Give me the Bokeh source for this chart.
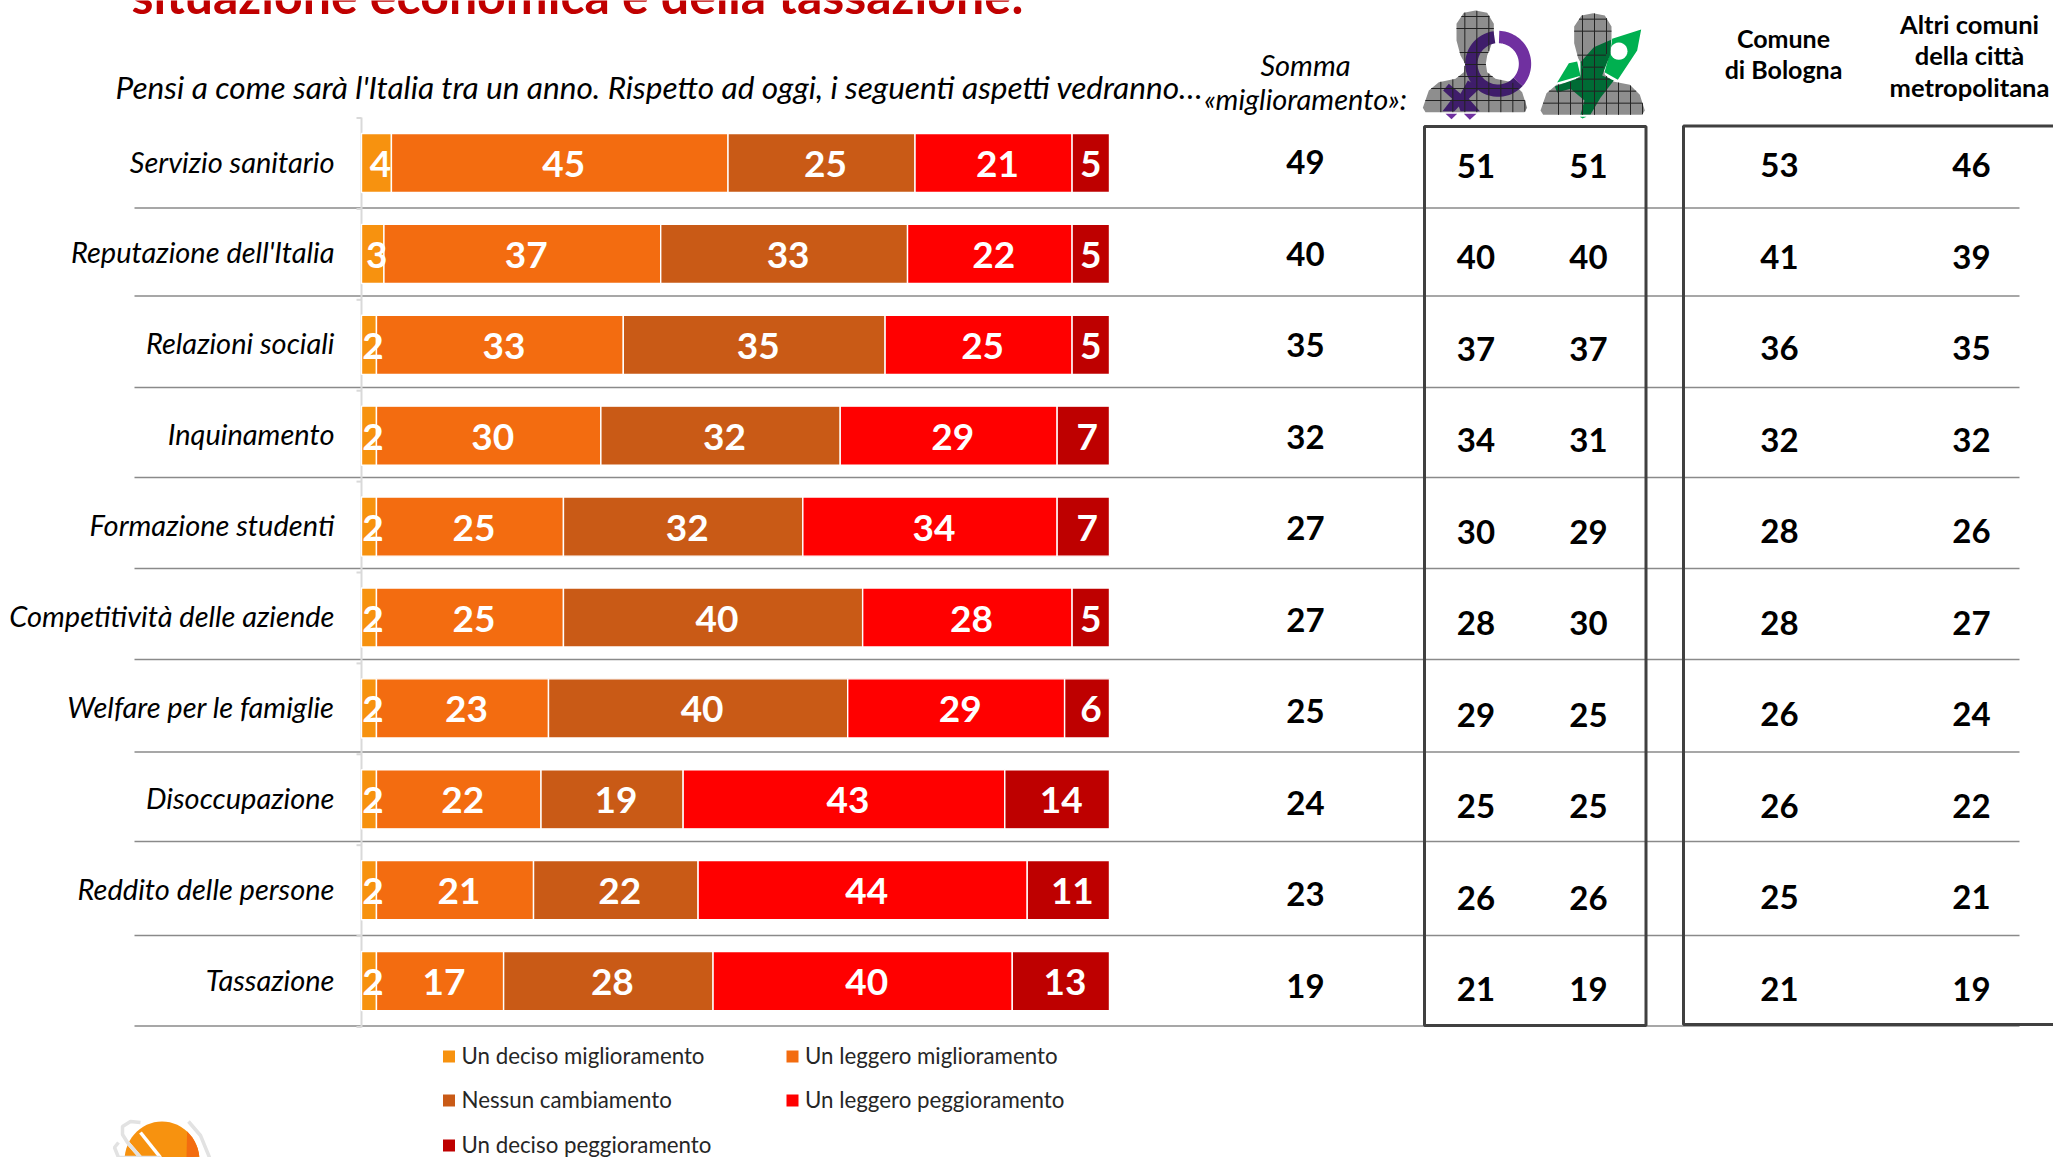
from bokeh.plotting import figure
from bokeh.models import Range1d, ColumnDataSource
from bokeh.core.properties import value
from bokeh.embed import file_html
from bokeh.resources import INLINE
import numpy as np

categories = ["Servizio sanitario", "Reputazione dell'Italia", "Relazioni sociali", "Inquinamento",
              "Formazione studenti", "Competitività delle aziende", "Welfare per le famiglie",
              "Disoccupazione", "Reddito delle persone", "Tassazione"]
deciso_migl = [4, 3, 2, 2, 2, 2, 2, 2, 2, 2]
leggero_migl = [45, 37, 33, 30, 25, 25, 23, 22, 21, 17]
nessun = [25, 33, 35, 32, 32, 40, 40, 19, 22, 28]
leggero_pegg = [21, 22, 25, 29, 34, 28, 29, 43, 44, 40]
deciso_pegg = [5, 5, 5, 7, 7, 5, 6, 14, 11, 13]
somma = [49, 40, 35, 32, 27, 27, 25, 24, 23, 19]
donne = [51, 40, 37, 34, 30, 28, 29, 25, 26, 21]
giovani = [51, 40, 37, 31, 29, 30, 25, 25, 26, 19]
bologna = [53, 41, 36, 32, 28, 28, 26, 26, 25, 21]
altri = [46, 39, 35, 32, 26, 27, 24, 22, 21, 19]
series_names = ["Un deciso miglioramento", "Un leggero miglioramento", "Nessun cambiamento",
                "Un leggero peggioramento", "Un deciso peggioramento"]
colors = ["#F7920F", "#F36C10", "#C95A16", "#FF0000", "#BE0000"]
title = "situazione economica e della tassazione:"
question = "Pensi a come sarà l'Italia tra un anno. Rispetto ad oggi, i seguenti aspetti vedranno…"

W, H = 2053, 1157
X0, X100 = 361.0, 1109.0
Y0, YSTEP = 162.5, 90.9
FONT = "Lato"

xs = (X100 - X0) / 100
ys = YSTEP
p = figure(width=W, height=H, output_backend="svg", toolbar_location=None,
           x_range=Range1d(-X0 / xs, (W - X0) / xs),
           y_range=Range1d((H - Y0) / ys, -Y0 / ys),
           min_border=0, outline_line_color=None)
p.axis.visible = False
p.grid.visible = False
p.extra_x_ranges["px"] = Range1d(0, W)
p.extra_y_ranges["px"] = Range1d(H, 0)
PX = dict(x_range_name="px", y_range_name="px")


def ptext(x, y, t, size, color="#000000", align="center", style="normal", baseline="middle"):
    p.text([x], [y], text=[t], text_font=value(FONT), text_font_size=f"{size}px", text_color=color,
           text_align=align, text_baseline=baseline, text_font_style=style, **PX)


# rules, axis and boxes
rule_y = [207.5, 295.5, 387, 477, 568, 659, 751.5, 841, 935, 1025.5]
p.segment([134] * 10, rule_y, [2019] * 10, rule_y, line_color="#8A8A8A", line_width=1.6, **PX)
p.segment([361], [117], [361], [1027], line_color="#D9D9D9", line_width=2, **PX)
tick_y = [117.5 + 90.9 * i for i in range(11)]
p.segment([356] * 11, tick_y, [361] * 11, tick_y, line_color="#D9D9D9", line_width=2, **PX)

# stacked bars, with all their labels on top
rows = list(range(len(categories)))
stack = [deciso_migl, leggero_migl, nessun, leggero_pegg, deciso_pegg]
left = np.zeros(len(rows))
sources = []
for k, (vals, col) in enumerate(zip(stack, colors)):
    right = left + np.array(vals)
    nudge = [0 if (k == 4 and v == 5) else 4 for v in vals]
    src = ColumnDataSource(dict(y=rows, l=left, r=right, c=(left + right) / 2, t=[str(v) for v in vals], n=nudge))
    p.hbar(y="y", left="l", right="r", height=0.65, fill_color=col, line_color="#FFFFFF", line_width=1.4, source=src)
    sources.append(src)
    left = right
for src in sources:
    p.text(x="c", y="y", text="t", text_color="#FFFFFF", text_font=value(FONT), text_font_style="bold",
           text_font_size="37px", text_align="center", text_baseline="middle", y_offset=1, x_offset="n", source=src)

# row labels
p.text(x=[(334 - X0) / xs] * 10, y=rows, text=categories, text_font=value(FONT), text_font_style="italic",
       text_font_size="29px", text_align="right", text_baseline="middle", text_color="#000000", y_offset=-2)

# value columns
for vals, cx, off in [(somma, 1305, -1), (donne, 1475.5, 2.5), (giovani, 1588, 2.5), (bologna, 1779, 2), (altri, 1971, 2)]:
    p.text(x=[(cx - X0) / xs] * 10, y=[r + (off + r * 0.6) / ys for r in rows], text=[str(v) for v in vals],
           text_font=value(FONT), text_font_style="bold", text_font_size="33px", text_align="center",
           text_baseline="middle", text_color="#000000")

# boxes
p.quad(left=[1424], right=[1645.5], top=[126], bottom=[1025], fill_color=None, line_color="#404040", line_width=3, **PX)
p.quad(left=[1683], right=[2060], top=[125.5], bottom=[1024], fill_color=None, line_color="#404040", line_width=3, **PX)

# titles
ptext(131, -6, title, 50, "#C00000", "left", "bold", "alphabetic")
ptext(115, 86.5, question, 31.6, "#000000", "left", "italic")
ptext(1305, 63.5, "Somma", 29, style="italic")
ptext(1305, 97.5, "«miglioramento»:", 29, style="italic")
ptext(1783, 37, "Comune", 25, style="bold")
ptext(1783, 68.5, "di Bologna", 25, style="bold")
ptext(1969, 23, "Altri comuni", 25.5, style="bold")
ptext(1969, 54.5, "della città", 25.5, style="bold")
ptext(1969, 86.5, "metropolitana", 25.5, style="bold")

# legend
leg_pos = [(448.5, 1056), (792, 1056), (448.5, 1100), (792, 1100), (448.5, 1145)]
for name, col, (lx, ly) in zip(series_names, colors, leg_pos):
    p.scatter([lx], [ly], marker="square", size=12, fill_color=col, line_color=None, **PX)
    ptext(lx + 12.5, ly - 1.5, name, 22.3, "#262626", "left")


# icons: outlines in px relative to the icon origin
def poly(pts, ox, oy):
    a = np.array(pts, float) / 3
    return list(a[:, 0] + ox), list(a[:, 1] + oy)


def ring(cx, cy, ro, ri, a0, a1):
    t = np.radians(np.linspace(a0, a1, 40))
    outer = np.c_[cx + ro * np.cos(t), cy - ro * np.sin(t)]
    inner = np.c_[cx + ri * np.cos(t[::-1]), cy - ri * np.sin(t[::-1])]
    return np.r_[outer, inner]


person = [(285, 30), (320, 37), (340, 70), (340, 110), (330, 140), (320, 165), (316, 190), (320, 215),
          (345, 235), (395, 245), (425, 275), (440, 322), (432, 335), (135, 335), (127, 322), (145, 270),
          (175, 245), (225, 235), (250, 215), (254, 190), (240, 165), (228, 120), (228, 70), (250, 37)]
OX = 1380


def grid_clip(pts, ox, oy, gx, gy):
    a = np.array(pts, float)
    b = np.roll(a, -1, axis=0)
    xa, ya, xb, yb = [], [], [], []
    for k in np.arange(a[:, 1].min() + gy / 2, a[:, 1].max(), gy):
        hit = sorted(p0[0] + (k - p0[1]) * (p1[0] - p0[0]) / (p1[1] - p0[1])
                     for p0, p1 in zip(a, b) if (p0[1] - k) * (p1[1] - k) < 0)
        for s, e in zip(hit[::2], hit[1::2]):
            xa.append(s / 3 + ox); xb.append(e / 3 + ox); ya.append(k / 3 + oy); yb.append(k / 3 + oy)
    for k in np.arange(a[:, 0].min() + gx / 2, a[:, 0].max(), gx):
        hit = sorted(p0[1] + (k - p0[0]) * (p1[1] - p0[1]) / (p1[0] - p0[0])
                     for p0, p1 in zip(a, b) if (p0[0] - k) * (p1[0] - k) < 0)
        for s, e in zip(hit[::2], hit[1::2]):
            ya.append(s / 3 + oy); yb.append(e / 3 + oy); xa.append(k / 3 + ox); xb.append(k / 3 + ox)
    return xa, ya, xb, yb


def shape(pts, col, ox=OX, oy=0, line=None):
    x, y = poly(pts, ox, oy)
    p.patch(x, y, fill_color=col, line_color=line, line_width=1.5 if line else 0, **PX)


PURPLE, PURPLE_D, GREEN, GREEN_D, GREY = "#7030A0", "#3F1D6B", "#00B050", "#006B35", "#8E8E8E"

# female figure
shape(ring(353, 190, 99, 62, 88, -42), PURPLE)
shape([(195, 340), (230, 340), (213, 356)], PURPLE)
shape([(250, 340), (288, 340), (268, 358)], PURPLE)
shape(person, GREY)
shape(ring(353, 190, 99, 62, 98, 318), PURPLE_D)
shape([(205, 250), (240, 280), (262, 240), (300, 262), (265, 295), (298, 332), (240, 332), (235, 318),
       (222, 332), (186, 332), (215, 295), (188, 270)], PURPLE_D)
xa, ya, xb, yb = grid_clip(person, OX, 0, 36, 36)
p.segment(xa, ya, xb, yb, line_color="#222222", line_width=1, **PX)

# rocket figure
person2 = [(x + 353, y + 8) for x, y in person]
shape([(695, 115), (782, 87), (770, 150), (712, 238), (672, 215), (690, 150)], GREEN)
shape([(530, 246), (565, 188), (590, 183), (600, 226)], GREEN)
shape([(598, 349), (618, 349), (606, 354)], GREEN)
t = np.radians(np.arange(0, 360, 15))
shape(np.c_[715 + 26 * np.cos(t), 152 + 26 * np.sin(t)], "#FFFFFF")
shape(person2, GREY)
shape([(692, 118), (690, 160), (665, 225), (700, 240), (660, 292), (630, 342), (600, 342), (612, 300),
       (570, 265), (530, 276), (523, 258), (600, 230), (600, 185), (640, 140)], GREEN_D)
xa, ya, xb, yb = grid_clip(person2, OX, 0, 36, 36)
p.segment(xa, ya, xb, yb, line_color="#222222", line_width=1, **PX)

# logo, cropped by the lower edge of the page
t = np.radians(np.arange(0, 360, 6))
x = 161.5 + 37.5 * np.cos(t)
y = 1160 + 39 * np.sin(t)
p.patch(list(x), list(y), fill_color="#F7920F", line_color=None, **PX)
mask = (x > 184) & (y < 1157)
p.patch(list(x[mask]) + [186], list(y[mask]) + [1157], fill_color="#F36C10", line_color=None, **PX)
p.multi_line([[140, 160], [127, 140]], [[1132, 1157], [1142, 1157]], line_color="#FFFFFF", line_width=3.5, **PX)
p.multi_line([[140, 130, 122, 122, 127, 140, 160],
              [118, 114, 118, 127, 140],
              [188, 200, 209]],
             [[1122, 1121, 1126, 1134, 1142, 1157, 1157],
              [1142, 1147, 1157, 1157, 1157],
              [1121, 1135, 1157]],
             line_color="#E2E2E2", line_width=3.5, **PX)

html = file_html(p, INLINE)
open("out.html", "w").write(html)
